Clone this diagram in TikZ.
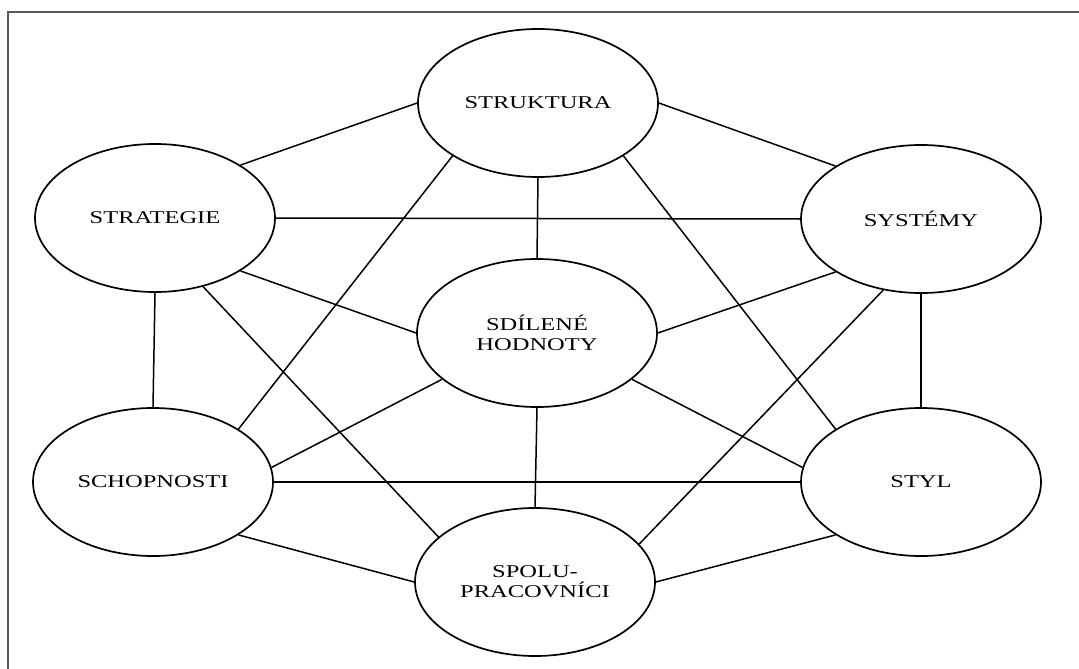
\documentclass[tikz,border=0pt]{standalone}
\usepackage{fontspec}
\newfontfamily\labelfont[FakeStretch=1.36]{Liberation Serif}
\usetikzlibrary{shapes.geometric}

\begin{document}
\begin{tikzpicture}[
                    x=1pt,
                    y=-1pt,
                    semithick,
                    line width=1.5pt
                ]
                \tikzstyle{factor}=[
                    ellipse,
                    draw=black,
                    line width=1.7pt,
                    minimum width=240pt,
                    minimum height=148pt,
                    inner sep=0pt,
                    align=center,
                    text=black,
                    font=\labelfont\fontsize{18}{20}\selectfont
                ]

                \useasboundingbox (0,0) rectangle (1079,669);

                % frame of the scan
                \coordinate (frame bl) at (8,669);
                \coordinate (frame tl) at (8,12);
                \coordinate (frame tr) at (1079,12);
                \draw[black!65, line width=2pt] (frame bl) -- (frame tl) -- (frame tr);

                \node[factor] (struktura)  at (538,103) {STRUKTURA};
                \node[factor] (strategie)  at (155,218) {STRATEGIE};
                \node[factor] (systemy)    at (921,219) {SYSTÉMY};
                \node[factor] (hodnoty)    at (537,333) {SDÍLENÉ\\HODNOTY};
                \node[factor] (schopnosti) at (153,482) {SCHOPNOSTI};
                \node[factor] (styl)       at (921,482) {STYL};
                \node[factor] (spolu)      at (535,582) {SPOLU-\\PRACOVNÍCI};

                \path
                (strategie.north east) edge [draw] (struktura.west)
                (struktura.east)       edge [draw] (systemy.north west)
                (strategie.east)       edge [draw] (systemy.west)
                (struktura.south)      edge [draw] (hodnoty.north)
                (struktura.south west) edge [draw] (schopnosti.north east)
                (struktura.south east) edge [draw] (styl.north west)
                (strategie.south east) edge [draw] (hodnoty.west)
                (strategie.south)      edge [draw] (schopnosti.north)
                (strategie.-55)        edge [draw] (spolu.155)
                (systemy.south west)   edge [draw] (hodnoty.east)
                (systemy.south)        edge [draw] (styl.north)
                (systemy.242)          edge [draw] (spolu.20)
                (hodnoty.206)          edge [draw] (schopnosti.7)
                (hodnoty.-26)          edge [draw] (styl.173)
                (hodnoty.south)        edge [draw] (spolu.north)
                (schopnosti.east)      edge [draw] (styl.west)
                (schopnosti.south east) edge [draw] (spolu.west)
                (styl.south west)      edge [draw] (spolu.east)
                ;
            \end{tikzpicture}
\end{document}
